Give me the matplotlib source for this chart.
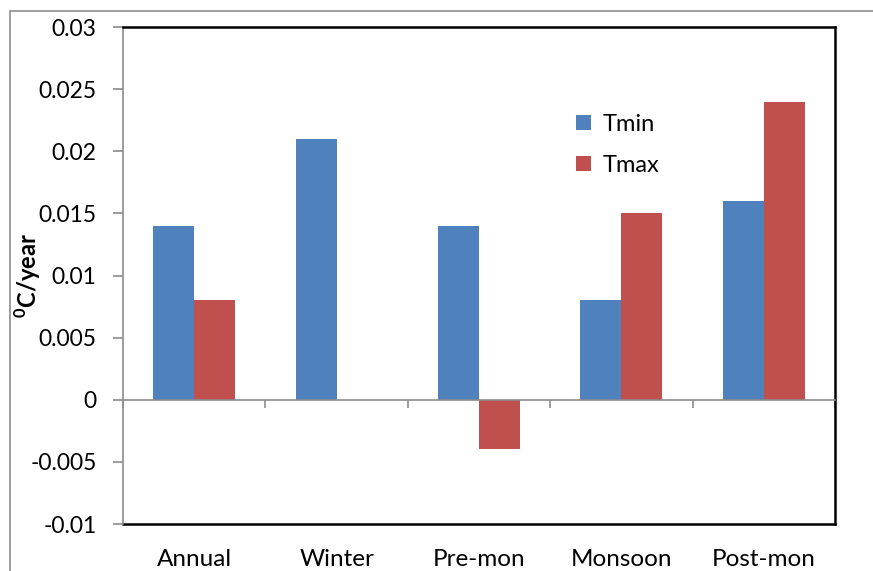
import matplotlib
matplotlib.use('Agg')
import matplotlib.pyplot as plt
import numpy as np
from matplotlib.patches import Rectangle

# data
seasons = ["Annual", "Winter", "Pre-mon", "Monsoon", "Post-mon"]
tmin = [0.014, 0.021, 0.014, 0.008, 0.016]
tmax = [0.008, 0.0, -0.004, 0.015, 0.024]
yticks = [-0.01, -0.005, 0, 0.005, 0.01, 0.015, 0.02, 0.025, 0.03]
ytick_labels = ["-0.01", "-0.005", "0", "0.005", "0.01", "0.015", "0.02", "0.025", "0.03"]

plt.rcParams['font.family'] = ['Lato', 'DejaVu Sans']
plt.rcParams['mathtext.fontset'] = 'custom'
plt.rcParams['mathtext.bf'] = 'Lato:bold'

fig = plt.figure(figsize=(8.73, 5.71), dpi=100)
ax = fig.add_axes([0.1409, 0.0823, 0.8156, 0.8704])

# outer chart frame (partly cut off at right/bottom)
fig.patches.append(Rectangle((10/873, -0.1), 1.2, 1 - 11/571 + 0.1,
                             transform=fig.transFigure, fill=False,
                             edgecolor='#8c8c8c', linewidth=1.2))

x = np.arange(len(seasons))
w = 0.288
ax.bar(x - w/2, tmin, w, color='#4F81BD', label='Tmin', zorder=2)
ax.bar(x + w/2, tmax, w, color='#C0504D', label='Tmax', zorder=2)

ax.set_xlim(-0.5, len(seasons) - 0.5)
ax.set_ylim(-0.01, 0.03)
ax.set_yticks(yticks)
ax.set_yticklabels(ytick_labels, fontsize=16.5)
ax.tick_params(axis='y', direction='out', length=7, color='#8c8c8c', width=1.2, pad=12)

# category axis sits at zero, with ticks between categories
ax.spines['bottom'].set_position(('data', 0))
ax.spines['bottom'].set_color('#8c8c8c')
ax.spines['bottom'].set_linewidth(1.2)
ax.set_xticks(np.arange(-0.5, len(seasons), 1.0))
ax.set_xticklabels([])
ax.tick_params(axis='x', direction='out', length=6, color='#8c8c8c', width=1.2)

ax.spines['left'].set_color('#8c8c8c')
ax.spines['left'].set_linewidth(1.2)
for s in ['top', 'right']:
    ax.spines[s].set_color('black')
    ax.spines[s].set_linewidth(1.8)

# category labels below the plot area
sec = ax.secondary_xaxis(0.0)
sec.set_xticks(x)
sec.set_xticklabels(seasons, fontsize=17.5)
sec.tick_params(length=0, pad=18)
sec.spines['bottom'].set_color('black')
sec.spines['bottom'].set_linewidth(1.8)

ax.set_ylabel(r'$^{\mathbf{0}}$C/year', fontsize=17, fontweight='bold')
ax.yaxis.set_label_coords(-0.113, 0.5)

ax.legend(loc='upper left', bbox_to_anchor=(0.607, 0.868), frameon=False,
          fontsize=17, handlelength=0.6, handleheight=0.6,
          labelspacing=0.85, handletextpad=0.5)

plt.savefig('out.png', dpi=100)
